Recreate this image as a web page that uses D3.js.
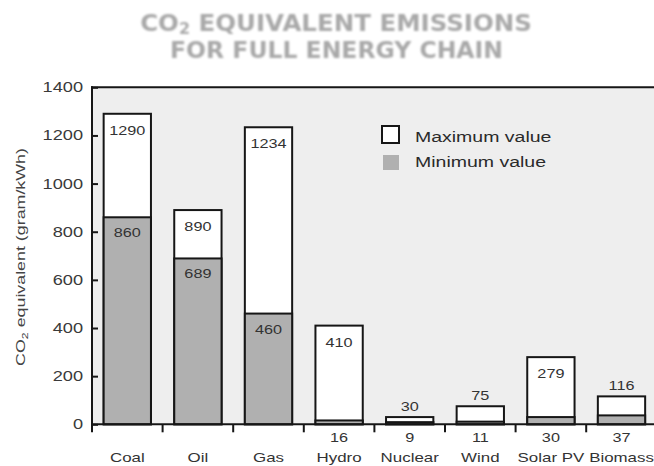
<!DOCTYPE html>
<html>
<head>
<meta charset="utf-8">
<script src="https://cdn.jsdelivr.net/npm/d3@7"></script>
<style>
  html, body { margin: 0; padding: 0; background: #fff; }
  svg { display: block; }
</style>
</head>
<body>
<svg id="chart" width="654" height="466"></svg>
<script>
// Life-cycle CO2-equivalent emissions per kWh, min and max per energy source
const categories = ["Coal", "Oil", "Gas", "Hydro", "Nuclear", "Wind", "Solar PV", "Biomass"];
const minValues = [860, 689, 460, 16, 9, 11, 30, 37];
const maxValues = [1290, 890, 1234, 410, 30, 75, 279, 116];
const yTicks = [0, 200, 400, 600, 800, 1000, 1200, 1400];
const titleLine1 = ["CO", "2", " EQUIVALENT EMISSIONS"];
const titleLine2 = "FOR FULL ENERGY CHAIN";
const yTitle = ["CO", "2", " equivalent (gram/kWh)"];
const legendLabels = ["Maximum value", "Minimum value"];

const svg = d3.select("#chart");
const font = "'Liberation Sans', Arial, Helvetica, sans-serif";
const SX = 1.3;           // horizontal stretch used for all body text
const GRAY = "#b0b0b0";
const INK = "#161616";

const x = d3.scaleBand().domain(categories).range([92, 656.8]).padding(0);
const y = d3.scaleLinear().domain([0, 1400]).range([424.3, 87.3]);
const barW = x.bandwidth() * 0.67;
const y0 = y(0);

const defs = svg.append("defs");
defs.append("filter").attr("id", "soft")
  .attr("x", "-5%").attr("y", "-20%").attr("width", "110%").attr("height", "140%")
  .append("feGaussianBlur").attr("stdDeviation", 0.8);

function stretchText(parent, px, py, txt, opts = {}) {
  const g = parent.append("g")
    .attr("transform", `translate(${px},${py}) scale(${opts.sx || SX},1)`);
  g.append("text")
    .attr("text-anchor", opts.anchor || "middle")
    .attr("font-family", font)
    .attr("font-size", opts.size || 12.5)
    .attr("fill", opts.fill || "#333")
    .text(txt);
  return g;
}

// Title (two lines, heavy grey lettering)
function titleText(parts, cx, by, targetW) {
  const g = svg.append("g").attr("filter", "url(#soft)");
  const t = g.append("text")
    .attr("text-anchor", "middle")
    .attr("font-family", "'DejaVu Sans', sans-serif")
    .attr("font-weight", "bold")
    .attr("font-size", 23)
    .attr("fill", "#a9a9a9");
  if (Array.isArray(parts)) {
    t.append("tspan").text(parts[0]);
    t.append("tspan").attr("dy", 3).attr("font-size", 15).text(parts[1]);
    t.append("tspan").attr("dy", -3).text(parts[2]);
  } else {
    t.text(parts);
  }
  const w = t.node().getBBox().width;
  g.attr("transform", `translate(${cx},${by}) scale(${targetW / w},1)`);
}
titleText(titleLine1, 336, 31, 392);
titleText(titleLine2, 336.5, 58, 333);

// Plot background
svg.append("rect")
  .attr("x", x.range()[0]).attr("y", y(1400))
  .attr("width", 654 - x.range()[0]).attr("height", y0 - y(1400))
  .attr("fill", "#eeeeee");

// Bars: white max bar with the grey min bar drawn over its base
const bars = svg.append("g");
categories.forEach((c, i) => {
  const bx = x(c) + (x.bandwidth() - barW) / 2;
  bars.append("rect")
    .attr("x", bx).attr("y", y(maxValues[i]))
    .attr("width", barW).attr("height", y0 - y(maxValues[i]))
    .attr("fill", "#fff").attr("stroke", INK).attr("stroke-width", 2);
  bars.append("rect")
    .attr("x", bx).attr("y", y(minValues[i]))
    .attr("width", barW).attr("height", y0 - y(minValues[i]))
    .attr("fill", GRAY).attr("stroke", INK).attr("stroke-width", 2);
});

// Value labels
const labels = svg.append("g");
categories.forEach((c, i) => {
  const cx = x(c) + x.bandwidth() / 2;
  const mx = maxValues[i], mn = minValues[i];
  const my = mx >= 200 ? y(mx) + 21 : y(mx) - 6;
  stretchText(labels, cx, my, String(mx), { size: 12.5 });
  const ny = mn >= 100 ? y(mn) + 20 : 442;
  stretchText(labels, cx, ny, String(mn), { size: 12.5 });
  stretchText(labels, cx, 462, c, { size: 13 });
});

// Y axis with inward ticks
const yAxis = d3.axisLeft(y).tickValues(yTicks).tickFormat(d3.format("d"))
  .tickSizeInner(-6).tickSizeOuter(0).tickPadding(9);
const ya = svg.append("g").attr("transform", `translate(${x.range()[0]},0)`).call(yAxis);
ya.select(".domain").remove();
ya.selectAll(".tick line").attr("stroke", INK).attr("stroke-width", 2);
ya.selectAll(".tick text")
  .attr("font-family", font).attr("font-size", 14).attr("fill", "#3a3a3a")
  .attr("x", -9 / SX).attr("transform", `scale(${SX},1)`);

const axes = svg.append("g").attr("stroke", INK).attr("stroke-width", 2);
// left axis line, running just below the baseline
axes.append("line")
  .attr("x1", x.range()[0]).attr("x2", x.range()[0])
  .attr("y1", y(1400) - 1).attr("y2", y0 + 8);
// top frame line
axes.append("line")
  .attr("x1", x.range()[0] - 1).attr("x2", 654)
  .attr("y1", y(1400)).attr("y2", y(1400));
// baseline
axes.append("line")
  .attr("x1", x.range()[0]).attr("x2", 654)
  .attr("y1", y0).attr("y2", y0);
// separator ticks between categories
categories.slice(1).forEach(c => {
  axes.append("line")
    .attr("x1", x(c)).attr("x2", x(c))
    .attr("y1", y0).attr("y2", y0 + 8);
});

// Y axis title
{
  const g = svg.append("g");
  const t = g.append("text")
    .attr("text-anchor", "middle")
    .attr("font-family", font).attr("font-size", 13).attr("fill", "#444");
  t.append("tspan").text(yTitle[0]);
  t.append("tspan").attr("dy", 3).attr("font-size", 9).text(yTitle[1]);
  t.append("tspan").attr("dy", -3).text(yTitle[2]);
  const w = t.node().getBBox().width;
  g.attr("transform", `translate(25,257) rotate(-90) scale(${218 / w},1)`);
}

// Legend
const legend = svg.append("g");
legend.append("rect").attr("x", 382).attr("y", 126).attr("width", 17).attr("height", 17)
  .attr("fill", "#fff").attr("stroke", INK).attr("stroke-width", 2);
legend.append("rect").attr("x", 383).attr("y", 155).attr("width", 16).attr("height", 15)
  .attr("fill", GRAY);
stretchText(legend, 415, 141.5, legendLabels[0], { size: 15, anchor: "start", fill: "#2a2a2a" });
stretchText(legend, 415, 167, legendLabels[1], { size: 15, anchor: "start", fill: "#2a2a2a" });
</script>
</body>
</html>
